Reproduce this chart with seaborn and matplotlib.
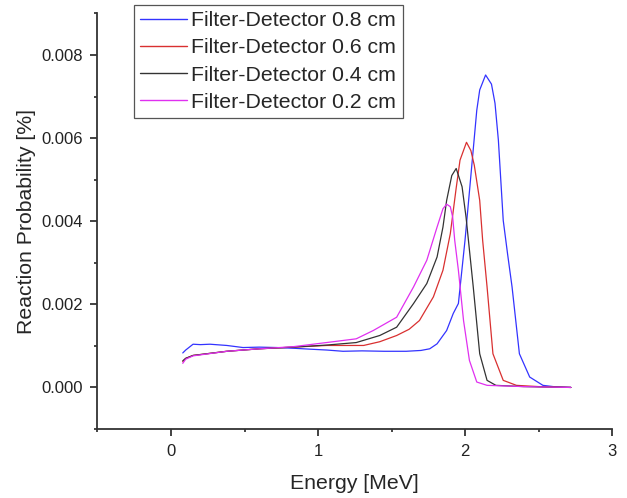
import matplotlib
matplotlib.use("Agg")
import matplotlib.pyplot as plt
import pandas as pd
import seaborn as sns
from matplotlib.ticker import MultipleLocator

# values (y in units of 1e-3 %)
labels = ["Filter-Detector 0.8 cm", "Filter-Detector 0.6 cm",
          "Filter-Detector 0.4 cm", "Filter-Detector 0.2 cm"]
colors = ["#3333ff", "#d93030", "#333333", "#e030f0"]

x_08 = [0.08, 0.10, 0.15, 0.20, 0.265, 0.38, 0.49, 0.60, 0.72, 0.85, 0.95, 1.06,
        1.17, 1.30, 1.45, 1.60, 1.70, 1.76, 1.81, 1.875, 1.92, 1.955, 2.00, 2.04,
        2.08, 2.10, 2.14, 2.18, 2.204, 2.227, 2.26, 2.29, 2.32, 2.37, 2.44, 2.53,
        2.60, 2.72]
y_08 = [0.83, 0.90, 1.04, 1.03, 1.04, 1.01, 0.96, 0.97, 0.96, 0.94, 0.92, 0.90,
        0.87, 0.88, 0.87, 0.87, 0.89, 0.93, 1.05, 1.37, 1.78, 2.02, 3.54, 5.10,
        6.67, 7.16, 7.52, 7.30, 6.84, 5.95, 4.02, 3.20, 2.42, 0.81, 0.25, 0.05,
        0.02, 0.0]

x_06 = [0.08, 0.10, 0.15, 0.38, 0.60, 0.83, 1.06, 1.26, 1.31, 1.42, 1.535, 1.62,
        1.69, 1.785, 1.85, 1.90, 1.94, 1.966, 2.01, 2.04, 2.063, 2.10, 2.12, 2.15,
        2.19, 2.26, 2.35, 2.50, 2.72]
y_06 = [0.62, 0.70, 0.77, 0.87, 0.93, 0.97, 1.01, 1.01, 1.01, 1.10, 1.25, 1.40,
        1.61, 2.18, 2.82, 3.70, 4.80, 5.47, 5.90, 5.70, 5.35, 4.50, 3.54, 2.42,
        0.81, 0.17, 0.05, 0.02, 0.0]

x_04 = [0.08, 0.10, 0.15, 0.38, 0.60, 0.83, 1.06, 1.26, 1.42, 1.535, 1.65, 1.74,
        1.81, 1.85, 1.875, 1.91, 1.94, 1.98, 2.007, 2.056, 2.10, 2.15, 2.21, 2.40,
        2.72]
y_04 = [0.64, 0.70, 0.77, 0.87, 0.93, 0.97, 1.02, 1.08, 1.25, 1.45, 2.02, 2.50,
        3.14, 3.86, 4.50, 5.10, 5.27, 4.83, 4.10, 2.42, 0.81, 0.17, 0.05, 0.02,
        0.0]

x_02 = [0.08, 0.10, 0.15, 0.38, 0.60, 0.83, 1.08, 1.26, 1.376, 1.535, 1.65, 1.74,
        1.81, 1.85, 1.875, 1.90, 1.916, 1.93, 1.955, 1.99, 2.03, 2.08, 2.15, 2.40,
        2.72]
y_02 = [0.58, 0.68, 0.76, 0.87, 0.93, 0.98, 1.09, 1.17, 1.37, 1.69, 2.42, 3.06,
        3.86, 4.30, 4.41, 4.35, 4.10, 3.54, 2.82, 1.61, 0.65, 0.13, 0.05, 0.02,
        0.0]

frames = []
for lab, xs, ys in zip(labels, [x_08, x_06, x_04, x_02], [y_08, y_06, y_04, y_02]):
    frames.append(pd.DataFrame({"energy": xs,
                                "prob": [v * 1e-3 for v in ys],
                                "series": lab}))
df = pd.concat(frames, ignore_index=True)

sns.set_theme(style="ticks")
plt.rcParams["font.family"] = ["Liberation Sans", "DejaVu Sans"]

fig = plt.figure(figsize=(6.27, 4.98), dpi=100)
ax = fig.add_axes([0.1555, 0.1386, 0.8206, 0.8343])

sns.lineplot(data=df, x="energy", y="prob", hue="series", hue_order=labels,
             palette=colors, estimator=None, sort=False, linewidth=0.9, ax=ax)

ax.set_xlim(-0.5, 3)
ax.set_ylim(-0.001, 0.009)
ax.xaxis.set_major_locator(MultipleLocator(1))
ax.xaxis.set_minor_locator(MultipleLocator(0.5))
ax.yaxis.set_major_locator(MultipleLocator(0.002))
ax.yaxis.set_minor_locator(MultipleLocator(0.001))
ax.yaxis.set_major_formatter(plt.FormatStrFormatter("%.3f"))
ax.tick_params(which="major", direction="out", length=5, width=1.2, pad=5.5,
               labelsize=12, colors="#222222")
ax.tick_params(which="minor", direction="out", length=2.5, width=1.2)
for side in ["top", "right"]:
    ax.spines[side].set_visible(False)
for side in ["left", "bottom"]:
    ax.spines[side].set_linewidth(1.3)
    ax.spines[side].set_color("#333333")

ax.set_xlabel("Energy [MeV]", fontsize=15.3, labelpad=11)
ax.set_ylabel("Reaction Probability [%]", fontsize=15.3, labelpad=4)

leg = ax.legend(loc="upper left", bbox_to_anchor=(0.2137, 0.99),
                bbox_transform=fig.transFigure, borderaxespad=0,
                fontsize=15.3, frameon=True, fancybox=False, framealpha=1,
                edgecolor="#555555", handlelength=2.2, handletextpad=0.2,
                labelspacing=0.38, borderpad=0.3)
leg.get_frame().set_linewidth(0.9)
for h in leg.get_lines():
    h.set_linewidth(1.0)

fig.savefig("out.png", dpi=100)
